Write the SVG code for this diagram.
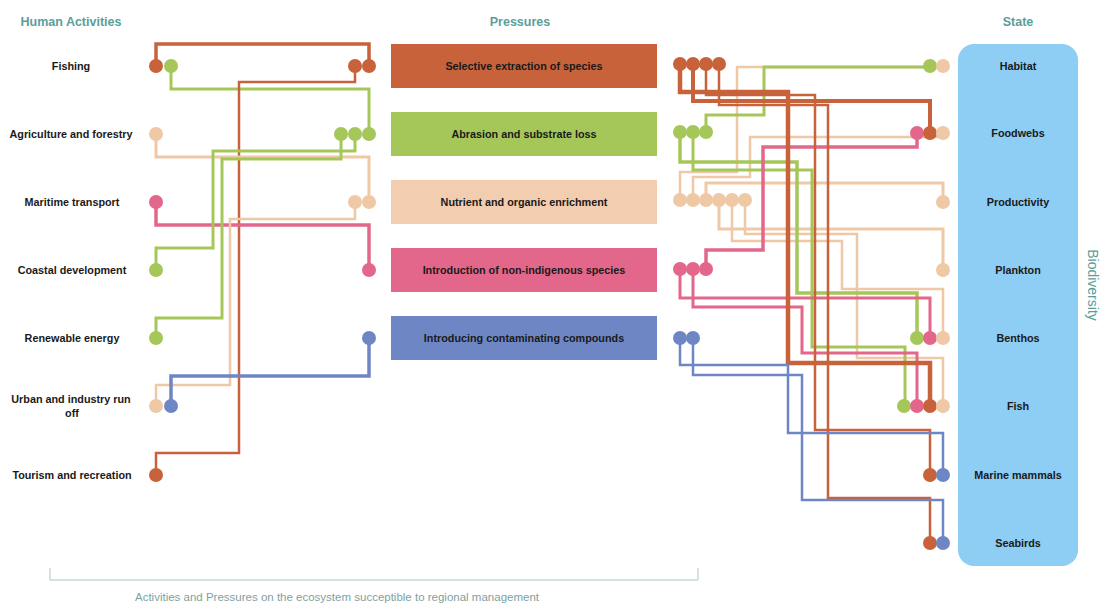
<svg xmlns="http://www.w3.org/2000/svg" width="1103" height="603" viewBox="0 0 1103 603">
<style>
.bg{fill:#ffffff}
.title{font-family:"Liberation Sans",Arial,sans-serif;font-size:12.5px;font-weight:bold;fill:#5a9e9c;text-anchor:middle}
.lbl{font-family:"Liberation Sans",Arial,sans-serif;font-size:10.8px;font-weight:bold;fill:#1a1a1a;text-anchor:middle}
.note{font-family:"Liberation Sans",Arial,sans-serif;font-size:11.5px;fill:#7f9f9f;text-anchor:middle}
.ln{fill:none;stroke-linejoin:miter}
.or{stroke:#c8623a}
.gr{stroke:#a5c75a}
.pe{stroke:#efc8a6}
.pk{stroke:#e2678a}
.bl{stroke:#6e87c4}
.cor{fill:#c8623a}
.cgr{fill:#a5c75a}
.cpe{fill:#efc8a6}
.cpk{fill:#e2678a}
.cbl{fill:#6e87c4}
</style>
<rect class="bg" x="0" y="0" width="1103" height="603"/>

<text class="title" x="71" y="26">Human Activities</text>
<text class="title" x="520" y="26">Pressures</text>
<text class="title" x="1018" y="26">State</text>

<g id="state-box">
<rect x="958" y="44" width="120" height="522" rx="16" fill="#8ecdf4"/>
<text x="1088" y="285" transform="rotate(90 1088 285)" font-family="Liberation Sans,Arial,sans-serif" font-size="14" fill="#5a9e9c" text-anchor="middle">Biodiversity</text>
</g>

<g id="connectors" class="ln">
<!-- left side -->
<path class="or" stroke-width="3.5" d="M156,66 V44 H369 V66"/>
<path class="gr" stroke-width="3" d="M171,66 V89 H369 V134"/>
<path class="or" stroke-width="2.5" d="M156,475 V453 H239 V82 H355 V66"/>
<path class="pe" stroke-width="3" d="M156,134 V157 H369 V202"/>
<path class="pk" stroke-width="3.5" d="M156,202 V225 H369 V270"/>
<path class="gr" stroke-width="3" d="M156,270 V248 H213 V151 H355 V134"/>
<path class="gr" stroke-width="3" d="M156,338 V318 H222 V159 H341 V134"/>
<path class="pe" stroke-width="2.5" d="M156,406 V385 H230 V219 H355 V202"/>
<path class="bl" stroke-width="3.5" d="M171,406 V376 H369 V338"/>

<!-- right side: peach -->
<path class="pe" stroke-width="2.5" d="M680,200 V172 H737 V67 H943"/>
<path class="pe" stroke-width="2.5" d="M693,200 V177 H750 V137 H943"/>
<path class="pe" stroke-width="3" d="M706,200 V183 H943 V202"/>
<path class="pe" stroke-width="3" d="M719,200 V229 H943 V270"/>
<path class="pe" stroke-width="2.5" d="M745,200 V234 H857 V358 H943 V406"/>
<path class="pe" stroke-width="2.5" d="M732,200 V241 H842 V289 H943 V338"/>

<!-- right side: green -->
<path class="gr" stroke-width="3" d="M706,132 V115 H764 V67 H930"/>
<path class="gr" stroke-width="3.5" d="M680,132 V162 H797 V293 H917 V338"/>
<path class="gr" stroke-width="3" d="M693,132 V170 H812 V347 H905 V406"/>

<!-- right side: pink -->
<path class="pk" stroke-width="3.5" d="M706,269 V250 H763 V147 H917 V133"/>
<path class="pk" stroke-width="3" d="M680,269 V298 H930 V338"/>
<path class="pk" stroke-width="3" d="M693,269 V307 H802 V353 H917 V406"/>

<!-- right side: orange -->
<path class="or" stroke-width="4.5" d="M680,64 V92 H788 V363 H930 V406"/>
<path class="or" stroke-width="4" d="M693,64 V101 H930 V133"/>
<path class="or" stroke-width="2.5" d="M706,64 V95 H815 V430 H930 V475"/>
<path class="or" stroke-width="2.5" d="M719,64 V105 H828 V498 H930 V543"/>

<!-- right side: blue -->
<path class="bl" stroke-width="2.5" d="M680,338 V365 H788 V433 H943 V475"/>
<path class="bl" stroke-width="2.5" d="M693,338 V375 H802 V500 H943 V543"/>
</g>

<g id="activities">
<g id="act-fishing"><text class="lbl" x="71" y="70">Fishing</text>
<circle class="cor" cx="156" cy="66" r="7"/><circle class="cgr" cx="171" cy="66" r="7"/></g>
<g id="act-agriculture"><text class="lbl" x="71" y="138">Agriculture and forestry</text>
<circle class="cpe" cx="156" cy="134" r="7"/></g>
<g id="act-maritime"><text class="lbl" x="72" y="206">Maritime transport</text>
<circle class="cpk" cx="156" cy="202" r="7"/></g>
<g id="act-coastal"><text class="lbl" x="72" y="274">Coastal development</text>
<circle class="cgr" cx="156" cy="270" r="7"/></g>
<g id="act-renewable"><text class="lbl" x="72" y="342">Renewable energy</text>
<circle class="cgr" cx="156" cy="338" r="7"/></g>
<g id="act-urban"><text class="lbl" x="71" y="403">Urban and industry run</text><text class="lbl" x="72" y="417">off</text>
<circle class="cpe" cx="156" cy="406" r="7"/><circle class="cbl" cx="171" cy="406" r="7"/></g>
<g id="act-tourism"><text class="lbl" x="72" y="479">Tourism and recreation</text>
<circle class="cor" cx="156" cy="475" r="7"/></g>
</g>

<g id="pressures">
<g id="p-extraction">
<circle class="cor" cx="355" cy="66" r="7"/><circle class="cor" cx="369" cy="66" r="7"/>
<rect x="391" y="44" width="266" height="44" fill="#c8623a"/>
<text class="lbl" x="524" y="70">Selective extraction of species</text>
<circle class="cor" cx="680" cy="64" r="7"/><circle class="cor" cx="693" cy="64" r="7"/><circle class="cor" cx="706" cy="64" r="7"/><circle class="cor" cx="719" cy="64" r="7"/>
</g>
<g id="p-abrasion">
<circle class="cgr" cx="341" cy="134" r="7"/><circle class="cgr" cx="355" cy="134" r="7"/><circle class="cgr" cx="369" cy="134" r="7"/>
<rect x="391" y="112" width="266" height="44" fill="#a5c75a"/>
<text class="lbl" x="524" y="138">Abrasion and substrate loss</text>
<circle class="cgr" cx="680" cy="132" r="7"/><circle class="cgr" cx="693" cy="132" r="7"/><circle class="cgr" cx="706" cy="132" r="7"/>
</g>
<g id="p-nutrient">
<circle class="cpe" cx="355" cy="202" r="7"/><circle class="cpe" cx="369" cy="202" r="7"/>
<rect x="391" y="180" width="266" height="44" fill="#f2cdb0"/>
<text class="lbl" x="524" y="206">Nutrient and organic enrichment</text>
<circle class="cpe" cx="680" cy="200" r="7"/><circle class="cpe" cx="693" cy="200" r="7"/><circle class="cpe" cx="706" cy="200" r="7"/><circle class="cpe" cx="719" cy="200" r="7"/><circle class="cpe" cx="732" cy="200" r="7"/><circle class="cpe" cx="745" cy="200" r="7"/>
</g>
<g id="p-introduction">
<circle class="cpk" cx="369" cy="270" r="7"/>
<rect x="391" y="248" width="266" height="44" fill="#e2678a"/>
<text class="lbl" x="524" y="274">Introduction of non-indigenous species</text>
<circle class="cpk" cx="680" cy="269" r="7"/><circle class="cpk" cx="693" cy="269" r="7"/><circle class="cpk" cx="706" cy="269" r="7"/>
</g>
<g id="p-contaminating">
<circle class="cbl" cx="369" cy="338" r="7"/>
<rect x="391" y="316" width="266" height="44" fill="#6e87c4"/>
<text class="lbl" x="524" y="342">Introducing contaminating compounds</text>
<circle class="cbl" cx="680" cy="338" r="7"/><circle class="cbl" cx="693" cy="338" r="7"/>
</g>
</g>

<g id="states">
<g id="s-habitat"><text class="lbl" x="1018" y="70">Habitat</text>
<circle class="cgr" cx="930" cy="66" r="7"/><circle class="cpe" cx="943" cy="66" r="7"/></g>
<g id="s-foodwebs"><text class="lbl" x="1018" y="137">Foodwebs</text>
<circle class="cpk" cx="917" cy="133" r="7"/><circle class="cor" cx="930" cy="133" r="7"/><circle class="cpe" cx="943" cy="133" r="7"/></g>
<g id="s-productivity"><text class="lbl" x="1018" y="206">Productivity</text>
<circle class="cpe" cx="943" cy="202" r="7"/></g>
<g id="s-plankton"><text class="lbl" x="1018" y="274">Plankton</text>
<circle class="cpe" cx="943" cy="270" r="7"/></g>
<g id="s-benthos"><text class="lbl" x="1018" y="342">Benthos</text>
<circle class="cgr" cx="917" cy="338" r="7"/><circle class="cpk" cx="930" cy="338" r="7"/><circle class="cpe" cx="943" cy="338" r="7"/></g>
<g id="s-fish"><text class="lbl" x="1018" y="410">Fish</text>
<circle class="cgr" cx="904" cy="406" r="7"/><circle class="cpk" cx="917" cy="406" r="7"/><circle class="cor" cx="930" cy="406" r="7"/><circle class="cpe" cx="943" cy="406" r="7"/></g>
<g id="s-mammals"><text class="lbl" x="1018" y="479">Marine mammals</text>
<circle class="cor" cx="930" cy="475" r="7"/><circle class="cbl" cx="943" cy="475" r="7"/></g>
<g id="s-seabirds"><text class="lbl" x="1018" y="547">Seabirds</text>
<circle class="cor" cx="930" cy="543" r="7"/><circle class="cbl" cx="943" cy="543" r="7"/></g>
</g>

<g id="bracket">
<path d="M50,568 V580 H698 V568" fill="none" stroke="#a8c8c4" stroke-width="1"/>
<text class="note" x="337" y="601">Activities and Pressures on the ecosystem succeptible to regional management</text>
</g>
</svg>
